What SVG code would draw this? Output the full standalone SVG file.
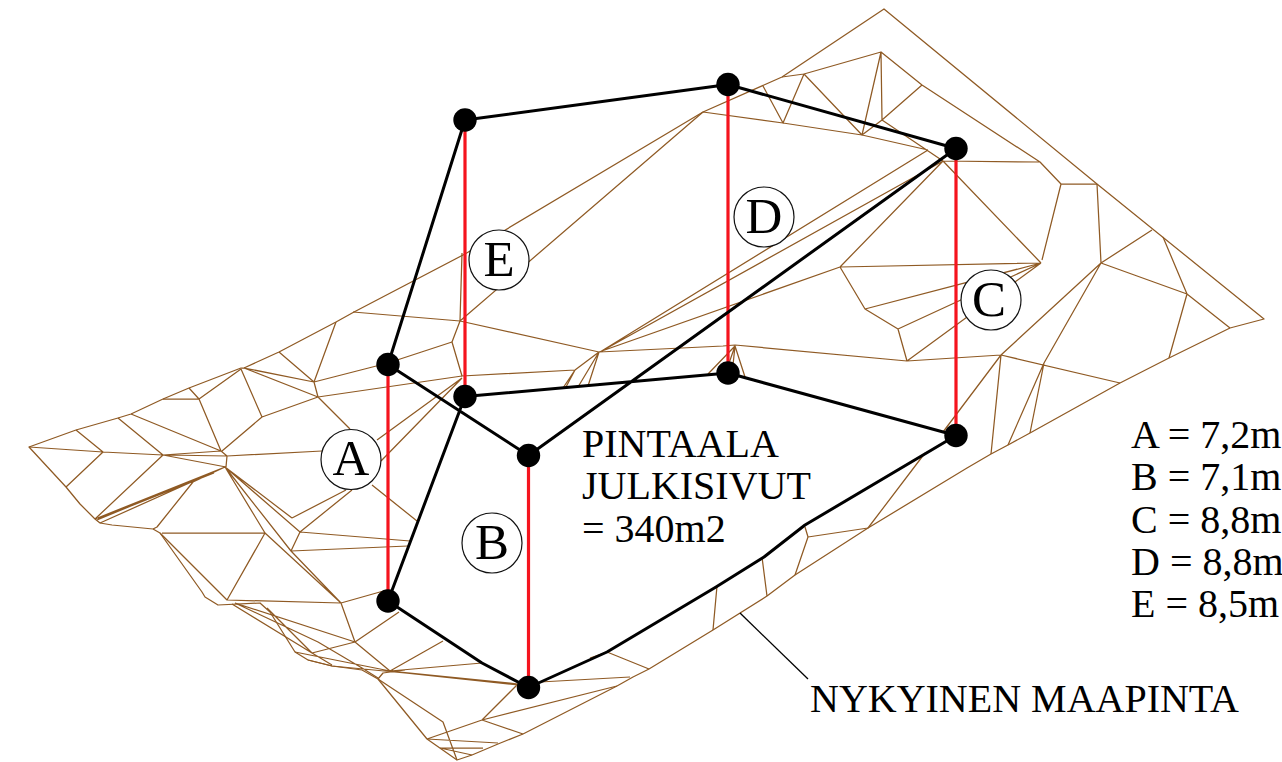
<svg xmlns="http://www.w3.org/2000/svg" width="1282" height="762" viewBox="0 0 1282 762">
<style>
.mesh{fill:none;stroke:#8f5a24;stroke-width:1.25;stroke-linejoin:round}
.edge{fill:none;stroke:#000;stroke-width:3;stroke-linejoin:round}
.red{stroke:#f5141e;stroke-width:3.2;fill:none}
.lead{stroke:#000;stroke-width:1.3;fill:none}
.dot{fill:#000}
.bub{fill:#fff;stroke:#111;stroke-width:1.2}
text{font-family:"Liberation Serif","Times New Roman",serif;fill:#000;font-size:40px}
.big{font-size:51px;text-anchor:middle}
</style>
<rect width="1282" height="762" fill="#fff"/>
<g id="terrain" class="mesh">
<path d="M29 447L76 430L118 418L131 414L163 399L189 388L241 368L244 368L279 352L336 322L354 312L465 254L703 112L782 77L884 9L1097 184L1264 319L1230 328L1169 358L1120 383L1030 433L1008 445L991 454L967 468L868 528L795 575L767 596L713 630L649 669L633 677L617 686L523 734L498 744L472 755L457 760L427 739L378 679L362 670L332 666L308 660L295 652L270 612L260 603L218 605L205 597L202 592L160 533L153 529L112 525L100 523L95 519L80 504L66 487Z"/>
<path d="M29 447L103 452L163 455L221 451M76 430L103 452L66 487M118 418L163 455L95 519M131 414L221 451M163 455L226 467M166 455L227 456L226 467M221 451L227 456L322 451M163 399L199 399L189 388M199 399L241 369M199 399L221 451M241 369L262 417L222 451M262 417L318 397M244 368L318 397M244 368L314 382M279 352L314 382L336 322M314 382L318 397M314 382L388 363L452 342M318 397L462 376M318 397L350 429M372 485L417 521"/>
<path d="M225 467L95 519M225 467L97 520M225 467L100 523M214 473L98 519M225 467L193 482L157 527L153 529M225 467L265 533M225 467L291 551M225 467L292 518M225 467L300 532M292 518L346 490M300 532L352 490M300 532L410 541M291 551L408 546M300 532L291 551M162 533L265 533L227 600M265 533L341 603M291 551L341 603M160 533L227 600L341 603L387 590M341 603L355 642L399 612M235 603L355 642M355 642L312 653M355 642L390 671L443 641M390 671L482 663M295 652L390 671L518 684M308 660L332 666L405 673L518 685M378 679L383 673L405 670M232 604L312 653L332 665M235 603L318 642L362 668L378 678M267 608L312 653M378 679L443 722L457 760M427 739L482 720L517 685M482 720L523 734M482 720L617 686M427 739L498 743M440 748L483 748M440 748L472 755M540 682L630 677M607 652L649 669M590 658L607 652"/>
<path d="M782 77L804 74L881 52L922 85L1040 162L1061 184L1097 184M1061 184L1042 260M703 112L783 123L862 135L928 150M763 86L783 123L804 74L862 135L881 52L882 120L922 85M862 135L882 120L943 161L1041 263M943 161L1040 162M928 150L600 352M943 161L600 352M943 161L840 267M703 112L460 321M462 253L460 321L353 312M460 321L599 352M460 321L452 342L462 376L575 370L599 352L723 346M575 370L563 388M575 370L566 387M599 352L578 387M599 352L588 386M599 352L840 267M735 346L708 374M735 346L733 365M735 346L728 366M735 346L745 377M723 346L735 345L907 361L1001 355M840 267L1041 263M840 267L865 309L898 329L907 361M865 309L1041 263M898 329L1041 263M907 361L1041 263M1101 263L1097 184M1101 263L1152 230M1101 263L1187 294L1163 237M1187 294L1230 328M1187 294L1169 358M1101 263L1001 355M1101 263L1044 363M1001 355L1120 383M1001 355L991 454M1044 363L1008 445M1044 363L1030 433M1001 355L943 432M925 453L868 528L808 537L805 527M808 537L795 575M762 557L767 596M717 586L713 630M462 378L377 440M462 378L381 461"/>
</g>
<g id="connectors">
<path class="red" d="M388 364V601M465 120V396M528.5 455V687M728 84V373M956 148V435"/>
<path class="edge" d="M465 120L728 84.5L956 148.5L528.5 455.5L388 364.5L465 120M465 396.5L388 601L482 663L528.5 687.5L607 652L716 587L764 557L805 525L956 435.5L728 373L465 396.5"/>
<path class="lead" d="M740 613L808 679"/>
</g>
<g id="node-1"><circle class="dot" cx="465" cy="120" r="11.7"/></g>
<g id="node-2"><circle class="dot" cx="728" cy="84.5" r="11.7"/></g>
<g id="node-3"><circle class="dot" cx="956" cy="148.5" r="11.7"/></g>
<g id="node-4"><circle class="dot" cx="388" cy="364.5" r="11.7"/></g>
<g id="node-5"><circle class="dot" cx="465" cy="396.5" r="11.7"/></g>
<g id="node-6"><circle class="dot" cx="528.5" cy="455.5" r="11.7"/></g>
<g id="node-7"><circle class="dot" cx="728" cy="373" r="11.7"/></g>
<g id="node-8"><circle class="dot" cx="956" cy="435.5" r="11.7"/></g>
<g id="node-9"><circle class="dot" cx="388" cy="601" r="11.7"/></g>
<g id="node-10"><circle class="dot" cx="528.5" cy="687.5" r="11.7"/></g>
<g id="label-A"><circle class="bub" cx="351" cy="459.5" r="30"/><text class="big" x="351" y="475">A</text></g>
<g id="label-B"><circle class="bub" cx="492" cy="543" r="30"/><text class="big" x="492" y="559">B</text></g>
<g id="label-C"><circle class="bub" cx="991" cy="300" r="30"/><text class="big" x="989" y="316">C</text></g>
<g id="label-D"><circle class="bub" cx="764" cy="217" r="30"/><text class="big" x="764" y="233">D</text></g>
<g id="label-E"><circle class="bub" cx="499" cy="260" r="30"/><text class="big" x="499" y="276">E</text></g>
<g id="area-note">
<text x="582" y="457">PINTAALA</text>
<text x="582" y="499">JULKISIVUT</text>
<text x="582" y="542">= 340m2</text>
</g>
<g id="heights">
<text x="1131" y="448">A = 7,2m</text>
<text x="1131" y="490">B = 7,1m</text>
<text x="1131" y="533">C = 8,8m</text>
<text x="1131" y="575">D = 8,8m</text>
<text x="1131" y="617">E = 8,5m</text>
</g>
<g id="ground-label"><text x="810" y="712">NYKYINEN MAAPINTA</text></g>
</svg>
